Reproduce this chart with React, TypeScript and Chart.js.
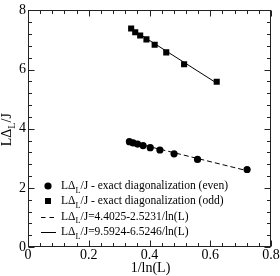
import React, { useEffect, useRef } from "react";
import { Chart, registerables } from "chart.js";

Chart.register(...registerables);

// 1/ln(L) for even L = 4..20
const evenX = [0.7213, 0.5581, 0.4809, 0.4343, 0.4024, 0.3789, 0.3607, 0.346, 0.3338];
const evenY = [2.62, 2.96, 3.15, 3.28, 3.36, 3.43, 3.48, 3.52, 3.56];
// 1/ln(L) for odd L = 5..19
const oddX = [0.6213, 0.5139, 0.4551, 0.417, 0.3899, 0.3693, 0.353, 0.3396];
const oddY = [5.59, 6.18, 6.58, 6.84, 7.02, 7.15, 7.26, 7.39];
// fit lines (end points)
const fitEvenX = [0.3338, 0.7213];
const fitEvenY = [3.56, 2.58];
const fitOddX = [0.3396, 0.6213];
const fitOddY = [7.38, 5.54];

const xTicks = [0, 0.2, 0.4, 0.6, 0.8];
const yTicks = [0, 2, 4, 6, 8];

const legendLabels = [
  "/J - exact diagonalization (even)",
  "/J - exact diagonalization (odd)",
  "/J=4.4025-2.5231/ln(L)",
  "/J=9.5924-6.5246/ln(L)",
];

const FONT = "'Liberation Serif', 'Times New Roman', serif";

function pts(xs: number[], ys: number[]) {
  return xs.map((v, i) => ({ x: v, y: ys[i] }));
}

function drawLDL(ctx: CanvasRenderingContext2D, x: number, y: number, size: number, rest: string, align: "left" | "center") {
  const sub = size * 0.72;
  ctx.font = `${size}px ${FONT}`;
  const w1 = ctx.measureText("L\u0394").width;
  const w3 = ctx.measureText(rest).width;
  ctx.font = `${sub}px ${FONT}`;
  const w2 = ctx.measureText("L").width;
  const total = w1 + w2 + w3;
  let sx = align === "center" ? x - total / 2 : x;
  ctx.textAlign = "left";
  ctx.textBaseline = "middle";
  ctx.fillStyle = "#000";
  ctx.font = `${size}px ${FONT}`;
  ctx.fillText("L\u0394", sx, y);
  ctx.font = `${sub}px ${FONT}`;
  ctx.fillText("L", sx + w1, y + size * 0.38);
  ctx.font = `${size}px ${FONT}`;
  ctx.fillText(rest, sx + w1 + w2, y);
}

const decorPlugin = {
  id: "decor",
  afterDraw(chart: any) {
    const { ctx, chartArea: a, scales } = chart;
    const xs = scales.x;
    const ys = scales.y;
    ctx.save();
    ctx.strokeStyle = "#222";
    ctx.lineWidth = 1;
    const L = Math.round(a.left) + 0.5;
    const R = Math.round(a.right) - 0.5;
    const T = Math.round(a.top) + 0.5;
    const B = Math.round(a.bottom) - 0.5;
    ctx.strokeRect(L, T, R - L, B - T);
    const line = (x1: number, y1: number, x2: number, y2: number) => {
      ctx.beginPath();
      ctx.moveTo(x1, y1);
      ctx.lineTo(x2, y2);
      ctx.stroke();
    };
    for (let i = 0; i <= 20; i++) {
      const v = i * 0.04;
      const px = Math.round(xs.getPixelForValue(v)) + 0.5;
      const len = i % 5 === 0 ? 6 : 3.5;
      line(px, B, px, B - len);
      line(px, T, px, T + len);
    }
    for (let i = 0; i <= 20; i++) {
      const v = i * 0.4;
      const py = Math.round(ys.getPixelForValue(v)) + 0.5;
      const len = i % 5 === 0 ? 6 : 3.5;
      line(L, py, L + len, py);
      line(R, py, R - len, py);
    }

    // axis titles
    ctx.fillStyle = "#000";
    ctx.font = `14px ${FONT}`;
    ctx.textAlign = "center";
    ctx.textBaseline = "middle";
    ctx.fillText("1/ln(L)", (a.left + a.right) / 2 + 1, 268);
    ctx.save();
    ctx.translate(7, (a.top + a.bottom) / 2 + 1);
    ctx.rotate(-Math.PI / 2);
    drawLDL(ctx, 0, 0, 14, "/J", "center");
    ctx.restore();

    // legend
    const rows = [186, 201, 216.5, 232];
    const sx = 48;
    const tx = 61;
    ctx.fillStyle = "#000";
    ctx.beginPath();
    ctx.arc(sx, rows[0], 3.6, 0, Math.PI * 2);
    ctx.fill();
    ctx.fillRect(sx - 3, rows[1] - 3, 6, 6);
    ctx.strokeStyle = "#000";
    ctx.lineWidth = 1;
    ctx.setLineDash([4.5, 4]);
    line(41, Math.round(rows[2]) + 0.5, 56, Math.round(rows[2]) + 0.5);
    ctx.setLineDash([]);
    line(41, Math.round(rows[3]) + 0.5, 56, Math.round(rows[3]) + 0.5);
    legendLabels.forEach((t, i) => drawLDL(ctx, tx, rows[i], 11.5, t, "left"));
    ctx.restore();
  },
};

export default function App() {
  const ref = useRef<HTMLCanvasElement>(null);
  useEffect(() => {
    if (!ref.current) return;
    const chart = new Chart(ref.current, {
      type: "scatter",
      data: {
        datasets: [
          {
            label: "fit even",
            data: pts(fitEvenX, fitEvenY),
            showLine: true,
            borderColor: "#000",
            borderWidth: 1,
            borderDash: [5, 3],
            pointRadius: 0,
          },
          {
            label: "fit odd",
            data: pts(fitOddX, fitOddY),
            showLine: true,
            borderColor: "#000",
            borderWidth: 1,
            pointRadius: 0,
          },
          {
            label: "even",
            data: pts(evenX, evenY),
            pointStyle: "circle",
            pointRadius: 3.6,
            backgroundColor: "#000",
            borderColor: "#000",
            borderWidth: 0,
          },
          {
            label: "odd",
            data: pts(oddX, oddY),
            pointStyle: "rect",
            pointRadius: 4.3,
            backgroundColor: "#000",
            borderColor: "#000",
            borderWidth: 0,
          },
        ],
      },
      options: {
        animation: false,
        responsive: false,
        devicePixelRatio: 1,
        layout: { padding: { left: 0, top: 5, right: 9, bottom: 0 } },
        plugins: { legend: { display: false }, tooltip: { enabled: false } },
        scales: {
          x: {
            type: "linear",
            min: 0,
            max: 0.8,
            afterFit: (s: any) => {
              s.height = 29;
            },
            afterBuildTicks: (s: any) => {
              s.ticks = xTicks.map((v) => ({ value: v }));
            },
            grid: { display: false, drawTicks: false },
            border: { display: false },
            ticks: {
              padding: 0,
              color: "#000",
              font: { family: FONT, size: 14 },
              maxRotation: 0,
              callback: (v: any) => String(Number(v)),
            },
          },
          y: {
            type: "linear",
            min: 0,
            max: 8,
            afterFit: (s: any) => {
              s.width = 28;
            },
            afterBuildTicks: (s: any) => {
              s.ticks = yTicks.map((v) => ({ value: v }));
            },
            grid: { display: false, drawTicks: false },
            border: { display: false },
            ticks: {
              padding: 2,
              color: "#000",
              font: { family: FONT, size: 14 },
              callback: (v: any) => String(Number(v)),
            },
          },
        },
      },
      plugins: [decorPlugin],
    });
    return () => chart.destroy();
  }, []);
  return (
    <div style={{ position: "fixed", left: 0, top: 0, width: 280, height: 276, background: "#fff" }}>
      <canvas ref={ref} width={280} height={276} style={{ width: 280, height: 276, display: "block" }} />
    </div>
  );
}
